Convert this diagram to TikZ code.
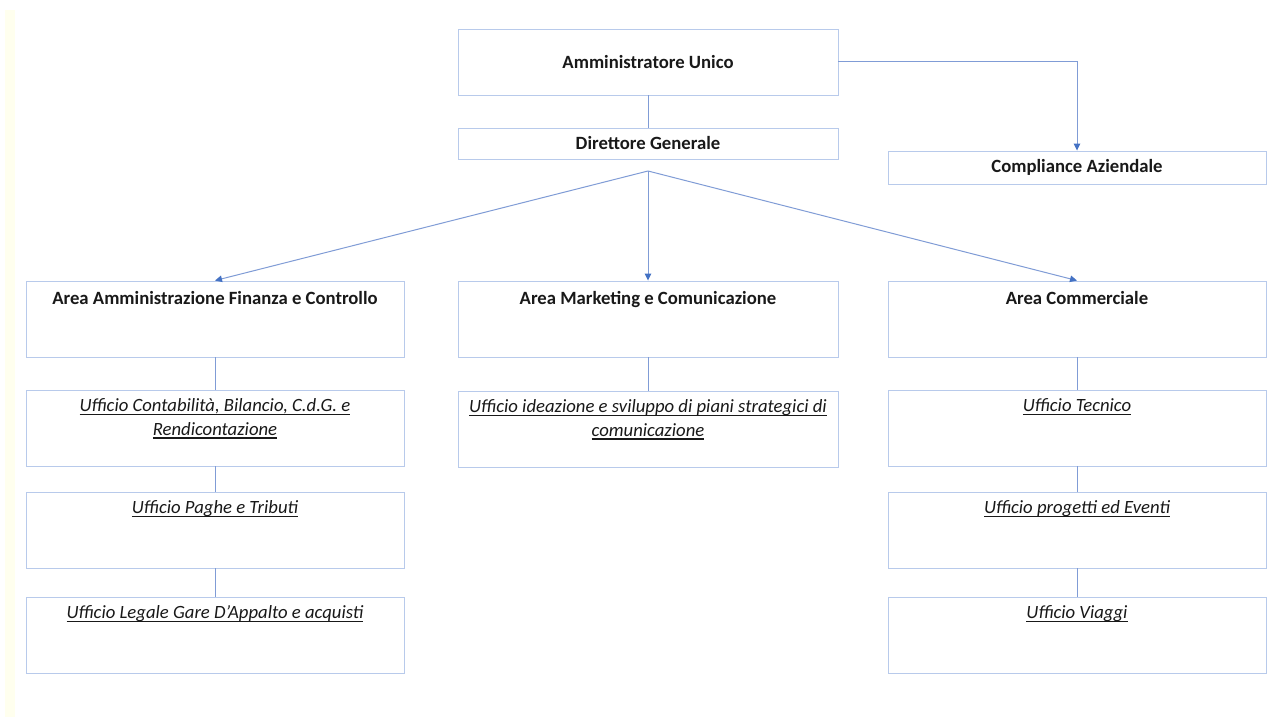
\documentclass[tikz,border=0pt]{standalone}
\usepackage{fontspec}
\setmainfont{Carlito}
\usetikzlibrary{arrows.meta}
\definecolor{boxborder}{RGB}{184,202,235}
\definecolor{connline}{RGB}{128,156,214}
\definecolor{conntip}{RGB}{68,114,196}
\definecolor{txt}{RGB}{25,25,25}
\definecolor{strip}{RGB}{255,255,238}
\newsavebox{\myulbox}
\newcommand{\myul}[1]{\sbox{\myulbox}{#1}\leavevmode\rlap{\rule[-3.6pt]{\wd\myulbox}{1.5pt}}\usebox{\myulbox}}
\tikzset{
  box/.style={draw=boxborder, line width=0.9pt, fill=white, inner sep=0pt, text=txt},
  hdr/.style={font=\fontsize{18.7}{23}\selectfont\bfseries, text=txt, inner sep=0pt},
  uff/.style={font=\fontsize{18.7}{23.5}\selectfont\itshape, text=txt, inner sep=0pt, align=center},
  conn/.style={draw=connline, line width=1pt},
  arr/.style={conn, -{Triangle[length=7pt,width=6.5pt,fill=conntip,color=conntip]}},
}
\begin{document}
\begin{tikzpicture}[x=1pt,y=-1pt]
\useasboundingbox (0,0) rectangle (1276,727);
\fill[white] (0,0) rectangle (1276,727);
\fill[strip] (5,10) rectangle (15,717);

% top
\node[box, minimum width=380pt, minimum height=66pt, font=\fontsize{18.7}{22}\selectfont\bfseries] (au) at (648,62) {Amministratore Unico};
\node[box, minimum width=380pt, minimum height=31pt, font=\fontsize{18.7}{22}\selectfont\bfseries] (dg) at (648,143.5) {Direttore Generale};
\node[box, minimum width=378pt, minimum height=33pt, font=\fontsize{18.7}{22}\selectfont\bfseries] (comp) at (1077,167.5) {Compliance Aziendale};
\coordinate (apex) at (648,171);

% areas
\node[box, minimum width=378pt, minimum height=76pt] (aaf) at (215,319) {};
\node[box, minimum width=380pt, minimum height=76pt] (amc) at (648,319) {};
\node[box, minimum width=378pt, minimum height=76pt] (acom) at (1077,319) {};
\node[hdr, anchor=base] (taaf) at ([yshift=-24pt]aaf.north) {Area Amministrazione Finanza e Controllo};
\node[hdr, anchor=base] (tamc) at ([yshift=-24pt]amc.north) {Area Marketing e Comunicazione};
\node[hdr, anchor=base] (tacom) at ([yshift=-24pt]acom.north) {Area Commerciale};

% left column offices
\node[box, minimum width=378pt, minimum height=76pt] (u1) at (215,428) {};
\node[box, minimum width=378pt, minimum height=76pt] (u2) at (215,530) {};
\node[box, minimum width=378pt, minimum height=76pt] (u3) at (215,635) {};
\node[uff, anchor=north] (tu1) at ([yshift=-9pt]u1.north) {\myul{Ufficio Contabilità, Bilancio, C.d.G. e}\\\myul{Rendicontazione}};
\node[uff, anchor=base] (tu2) at ([yshift=-22pt]u2.north) {\myul{Ufficio Paghe e Tributi}};
\node[uff, anchor=base] (tu3) at ([yshift=-22pt]u3.north) {\myul{Ufficio Legale Gare D’Appalto e acquisti}};

% middle column office
\node[box, minimum width=380pt, minimum height=76pt] (m1) at (648,429) {};
\node[uff, anchor=north] (tm1) at ([yshift=-9pt]m1.north) {\myul{Ufficio ideazione e sviluppo di piani strategici di}\\\myul{comunicazione}};

% right column offices
\node[box, minimum width=378pt, minimum height=76pt] (r1) at (1077,428) {};
\node[box, minimum width=378pt, minimum height=76pt] (r2) at (1077,530) {};
\node[box, minimum width=378pt, minimum height=76pt] (r3) at (1077,635) {};
\node[uff, anchor=base] (tr1) at ([yshift=-22pt]r1.north) {\myul{Ufficio Tecnico}};
\node[uff, anchor=base] (tr2) at ([yshift=-22pt]r2.north) {\myul{Ufficio progetti ed Eventi}};
\node[uff, anchor=base] (tr3) at ([yshift=-22pt]r3.north) {\myul{Ufficio Viaggi}};

% connectors
\draw[conn] (au.south) -- (dg.north);
\draw[arr] (au.east) -| (comp.north);
\draw[arr] (apex) -- (aaf.north);
\draw[arr] (apex) -- (amc.north);
\draw[arr] (apex) -- (acom.north);
\draw[conn] (aaf.south) -- (u1.north);
\draw[conn] (u1.south) -- (u2.north);
\draw[conn] (u2.south) -- (u3.north);
\draw[conn] (amc.south) -- (m1.north);
\draw[conn] (acom.south) -- (r1.north);
\draw[conn] (r1.south) -- (r2.north);
\draw[conn] (r2.south) -- (r3.north);
\end{tikzpicture}
\end{document}
